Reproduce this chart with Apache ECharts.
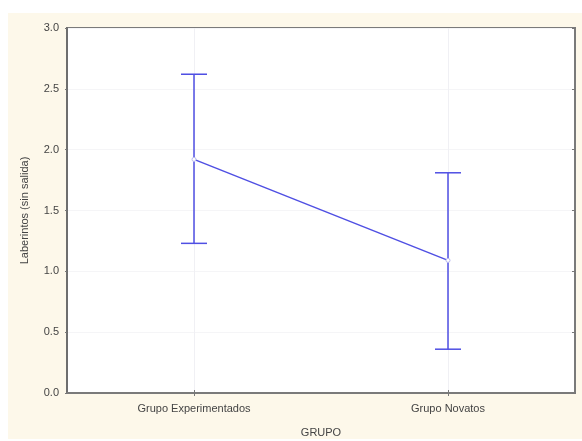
<!DOCTYPE html>
<html>
<head>
<meta charset="utf-8">
<script src="https://cdn.jsdelivr.net/npm/echarts@6/dist/echarts.min.js"></script>
<style>
  html, body { margin: 0; padding: 0; background: #ffffff; }
  #chart { width: 582px; height: 441px; }
</style>
</head>
<body>
<div id="chart"></div>
<script>
// Group means with their confidence interval bounds
const categories = ['Grupo Experimentados', 'Grupo Novatos'];
const means = [1.92, 1.09];
const lowerBounds = [1.23, 0.36];
const upperBounds = [2.62, 1.81];
const yTicks = ['0.0', '0.5', '1.0', '1.5', '2.0', '2.5', '3.0'];

const chart = echarts.init(document.getElementById('chart'), null, { renderer: 'canvas' });

const font = 'Liberation Sans, Arial, sans-serif';
const blue = '#4f4fe3';
const textColor = '#444';

const errorData = categories.map((c, i) => [i, lowerBounds[i], upperBounds[i]]);

chart.setOption({
  animation: false,
  backgroundColor: '#ffffff',
  graphic: [{
    type: 'rect',
    left: 8, top: 13,
    shape: { width: 574, height: 426 },
    style: { fill: '#fdf8ea' },
    z: -10
  }],
  grid: {
    left: 67, top: 28, right: 7, bottom: 48,
    outerBoundsMode: 'none',
    containLabel: false,
    show: true,
    backgroundColor: '#ffffff',
    borderColor: '#7a7a7a',
    borderWidth: 2
  },
  xAxis: [{
    type: 'category',
    data: categories,
    position: 'bottom',
    name: 'GRUPO',
    nameLocation: 'middle',
    nameGap: 34,
    nameTextStyle: { fontFamily: font, fontSize: 11, color: textColor },
    axisLine: { lineStyle: { color: '#6e6e6e', width: 2 } },
    axisTick: { show: true, alignWithLabel: true, inside: true, length: 3, lineStyle: { color: '#777' } },
    axisLabel: { fontFamily: font, fontSize: 11, color: textColor, margin: 10 },
    splitLine: { show: true, alignWithLabel: true, lineStyle: { color: '#f0f0f4', width: 1 } }
  }, {
    type: 'category',
    data: categories,
    position: 'top',
    axisLine: { lineStyle: { color: '#7a7a7a', width: 2 } },
    axisTick: { show: true, alignWithLabel: true, inside: true, length: 3, lineStyle: { color: '#777' } },
    axisLabel: { show: false },
    splitLine: { show: false }
  }],
  yAxis: [{
    type: 'value',
    min: 0, max: 3, interval: 0.5,
    name: 'Laberintos (sin salida)',
    nameLocation: 'middle',
    nameGap: 37,
    nameTextStyle: { fontFamily: font, fontSize: 11, color: textColor },
    axisLine: { show: true, lineStyle: { color: '#6e6e6e', width: 2 } },
    axisTick: { show: true, inside: false, length: 2, lineStyle: { color: '#777' } },
    axisLabel: {
      fontFamily: font, fontSize: 11, color: textColor, margin: 8,
      formatter: v => yTicks[Math.round(v * 2)]
    },
    splitLine: { show: true, lineStyle: { color: '#f5f5f7', width: 1 } }
  }, {
    type: 'value',
    min: 0, max: 3, interval: 0.5,
    position: 'right',
    axisLine: { show: true, lineStyle: { color: '#7a7a7a', width: 2 } },
    axisTick: { show: true, inside: true, length: 3, lineStyle: { color: '#777' } },
    axisLabel: { show: false },
    splitLine: { show: false }
  }],
  series: [{
    type: 'custom',
    name: 'IC',
    xAxisIndex: 0,
    yAxisIndex: 0,
    data: errorData,
    renderItem: function (params, api) {
      const x = api.value(0);
      const lo = api.coord([x, api.value(1)]);
      const hi = api.coord([x, api.value(2)]);
      const half = 13;
      const style = { stroke: blue, lineWidth: 1.5 };
      return {
        type: 'group',
        children: [
          { type: 'line', shape: { x1: lo[0], y1: lo[1], x2: hi[0], y2: hi[1] }, style },
          { type: 'line', shape: { x1: lo[0] - half, y1: lo[1], x2: lo[0] + half, y2: lo[1] }, style },
          { type: 'line', shape: { x1: hi[0] - half, y1: hi[1], x2: hi[0] + half, y2: hi[1] }, style }
        ]
      };
    },
    z: 2
  }, {
    type: 'line',
    name: 'Media',
    xAxisIndex: 0,
    yAxisIndex: 0,
    data: means,
    lineStyle: { color: blue, width: 1.5 },
    symbol: 'circle',
    symbolSize: 4,
    itemStyle: { color: '#ffffff', borderColor: '#b8b8f0', borderWidth: 1 },
    z: 3
  }]
});
</script>
</body>
</html>
